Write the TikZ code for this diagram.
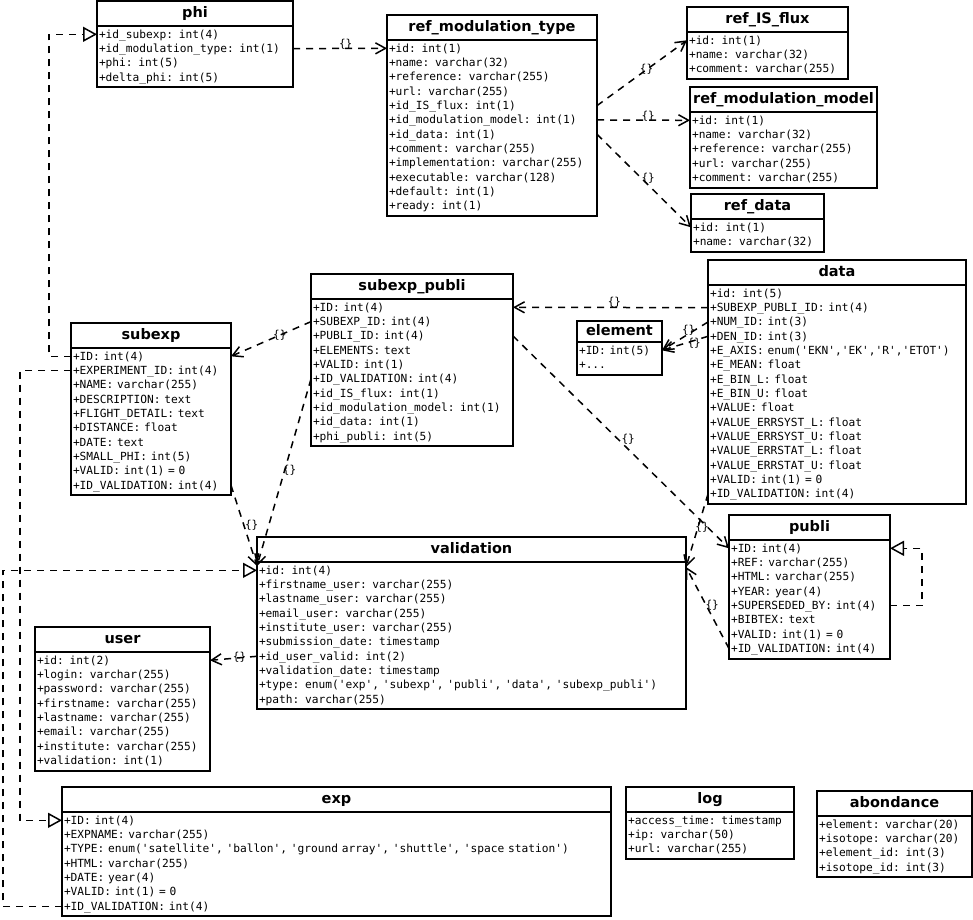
\documentclass[tikz,border=0pt]{standalone}
\usepackage{fontspec}
\setsansfont{DejaVu Sans}
\setmonofont{DejaVu Sans Mono}
\usepackage{tikz}
\usetikzlibrary{arrows.meta,positioning}

% point on row #3 of the body of table #1, side #2
\newcommand{\rw}[3]{([yshift={-8.3pt-(#3-1)*14.33pt}]#1-b.north #2)}

\begin{document}
\begin{tikzpicture}[x=1pt,y=-1pt,
    ttl/.style={draw,line width=1.7pt,outer sep=0pt,inner sep=0pt,anchor=north west,
      minimum width=#1,minimum height=25pt,text height=10.5pt,text depth=3pt,
      font=\sffamily\bfseries\fontsize{14.5pt}{17pt}\selectfont},
    bdy/.style={draw,line width=1.7pt,outer sep=0pt,inner xsep=2pt,inner ysep=2pt,
      text width=#1-4pt,align=left,font=\ttfamily\fontsize{11.2pt}{14.33pt}\selectfont,
      execute at begin node=\strut,execute at end node=\strut},
    link/.style={line width=1.5pt,dash pattern=on 7pt off 6pt},
    fk/.style={link,-{Straight Barb[length=10pt,width=11pt]}},
    gen/.style={link,-{Triangle[open,length=14pt,width=15pt]}},
    lbl/.style={font=\ttfamily\fontsize{11pt}{12pt}\selectfont,inner sep=0pt}]
  \useasboundingbox (0,0) rectangle (973,919);

  % tables
  \node[ttl=196pt] (phi) at (97,1) {phi};
  \node[bdy=196pt, below=0pt of phi] (phi-b)
    {+id\_subexp: int(4)\\+id\_modulation\_type: int(1)\\+phi: int(5)\\+delta\_phi: int(5)};

  \node[ttl=210pt] (reftype) at (387,15) {ref\_modulation\_type};
  \node[bdy=210pt, below=0pt of reftype] (reftype-b)
    {+id: int(1)\\+name: varchar(32)\\+reference: varchar(255)\\+url: varchar(255)\\
     +id\_IS\_flux: int(1)\\+id\_modulation\_model: int(1)\\+id\_data: int(1)\\
     +comment: varchar(255)\\+implementation: varchar(255)\\+executable: varchar(128)\\
     +default: int(1)\\+ready: int(1)};

  \node[ttl=161pt] (isflux) at (687,7) {ref\_IS\_flux};
  \node[bdy=161pt, below=0pt of isflux] (isflux-b)
    {+id: int(1)\\+name: varchar(32)\\+comment: varchar(255)};

  \node[ttl=187pt] (refmodel) at (690,87) {ref\_modulation\_model};
  \node[bdy=187pt, below=0pt of refmodel] (refmodel-b)
    {+id: int(1)\\+name: varchar(32)\\+reference: varchar(255)\\+url: varchar(255)\\
     +comment: varchar(255)};

  \node[ttl=133pt] (refdata) at (691,194) {ref\_data};
  \node[bdy=133pt, below=0pt of refdata] (refdata-b)
    {+id: int(1)\\+name: varchar(32)};

  \node[ttl=258pt] (data) at (708,260) {data};
  \node[bdy=258pt, below=0pt of data] (data-b)
    {+id: int(5)\\+SUBEXP\_PUBLI\_ID: int(4)\\+NUM\_ID: int(3)\\+DEN\_ID: int(3)\\
     +E\_AXIS: enum('EKN','EK','R','ETOT')\\+E\_MEAN: float\\+E\_BIN\_L: float\\
     +E\_BIN\_U: float\\+VALUE: float\\+VALUE\_ERRSYST\_L: float\\+VALUE\_ERRSYST\_U: float\\
     +VALUE\_ERRSTAT\_L: float\\+VALUE\_ERRSTAT\_U: float\\+VALID: int(1) = 0\\
     +ID\_VALIDATION: int(4)};

  \node[ttl=85pt, minimum height=21pt] (element) at (577,321) {element};
  \node[bdy=85pt, below=0pt of element] (element-b)
    {+ID: int(5)\\+...};

  \node[ttl=202pt] (subpub) at (311,274) {subexp\_publi};
  \node[bdy=202pt, below=0pt of subpub] (subpub-b)
    {+ID: int(4)\\+SUBEXP\_ID: int(4)\\+PUBLI\_ID: int(4)\\+ELEMENTS: text\\+VALID: int(1)\\
     +ID\_VALIDATION: int(4)\\+id\_IS\_flux: int(1)\\+id\_modulation\_model: int(1)\\
     +id\_data: int(1)\\+phi\_publi: int(5)};

  \node[ttl=160pt] (subexp) at (71,323) {subexp};
  \node[bdy=160pt, below=0pt of subexp] (subexp-b)
    {+ID: int(4)\\+EXPERIMENT\_ID: int(4)\\+NAME: varchar(255)\\+DESCRIPTION: text\\
     +FLIGHT\_DETAIL: text\\+DISTANCE: float\\+DATE: text\\+SMALL\_PHI: int(5)\\
     +VALID: int(1) = 0\\+ID\_VALIDATION: int(4)};

  \node[ttl=429pt] (validation) at (257,537) {validation};
  \node[bdy=429pt, below=0pt of validation] (validation-b)
    {+id: int(4)\\+firstname\_user: varchar(255)\\+lastname\_user: varchar(255)\\
     +email\_user: varchar(255)\\+institute\_user: varchar(255)\\+submission\_date: timestamp\\
     +id\_user\_valid: int(2)\\+validation\_date: timestamp\\
     +type: enum('exp', 'subexp', 'publi', 'data', 'subexp\_publi')\\+path: varchar(255)};

  \node[ttl=161pt] (publi) at (729,515) {publi};
  \node[bdy=161pt, below=0pt of publi] (publi-b)
    {+ID: int(4)\\+REF: varchar(255)\\+HTML: varchar(255)\\+YEAR: year(4)\\
     +SUPERSEDED\_BY: int(4)\\+BIBTEX: text\\+VALID: int(1) = 0\\+ID\_VALIDATION: int(4)};

  \node[ttl=175pt] (user) at (35,627) {user};
  \node[bdy=175pt, below=0pt of user] (user-b)
    {+id: int(2)\\+login: varchar(255)\\+password: varchar(255)\\+firstname: varchar(255)\\
     +lastname: varchar(255)\\+email: varchar(255)\\+institute: varchar(255)\\
     +validation: int(1)};

  \node[ttl=549pt] (exp) at (62,787) {exp};
  \node[bdy=549pt, below=0pt of exp] (exp-b)
    {+ID: int(4)\\+EXPNAME: varchar(255)\\
     +TYPE: enum('satellite', 'ballon', 'ground array', 'shuttle', 'space station')\\
     +HTML: varchar(255)\\+DATE: year(4)\\+VALID: int(1) = 0\\+ID\_VALIDATION: int(4)};

  \node[ttl=168pt] (log) at (626,787) {log};
  \node[bdy=168pt, below=0pt of log] (log-b)
    {+access\_time: timestamp\\+ip: varchar(50)\\+url: varchar(255)};

  \node[ttl=155pt] (abondance) at (817,791) {abondance};
  \node[bdy=155pt, below=0pt of abondance] (abondance-b)
    {+element: varchar(20)\\+isotope: varchar(20)\\+element\_id: int(3)\\+isotope\_id: int(3)};

  % references
  \draw[fk] \rw{phi}{east}{2} -- \rw{reftype}{west}{1} node[lbl,pos=.56,yshift=4pt] {\{\}};
  \draw[fk] \rw{reftype}{east}{5} -- \rw{isflux}{west}{1} node[lbl,pos=.55] {\{\}};
  \draw[fk] \rw{reftype}{east}{6} -- \rw{refmodel}{west}{1} node[lbl,pos=.55,yshift=4pt] {\{\}};
  \draw[fk] \rw{reftype}{east}{7} -- \rw{refdata}{west}{1} node[lbl,pos=.47,xshift=7pt] {\{\}};
  \draw[fk] \rw{subpub}{west}{2} -- \rw{subexp}{east}{1} node[lbl,pos=.39] {\{\}};
  \draw[fk] \rw{subpub}{west}{6} -- ([yshift=-4pt]validation-b.north west)
    node[lbl,pos=.49,xshift=5pt] {\{\}};
  \draw[fk] \rw{subexp}{east}{10} -- ([yshift=-4pt]validation-b.north west)
    node[lbl,pos=.49,xshift=8pt] {\{\}};
  \draw[fk] \rw{data}{west}{2} -- \rw{subpub}{east}{1} node[lbl,pos=.48,yshift=5pt] {\{\}};
  \draw[fk] \rw{data}{west}{3} -- \rw{element}{east}{1} node[lbl,pos=.42,yshift=4pt] {\{\}};
  \draw[fk] \rw{data}{west}{4} -- \rw{element}{east}{1} node[lbl,pos=.30,yshift=-3pt] {\{\}};
  \draw[fk] \rw{subpub}{east}{3} -- \rw{publi}{west}{1} node[lbl,pos=.51,xshift=5pt,yshift=5pt] {\{\}};
  \draw[fk] \rw{data}{west}{15} -- ([yshift=-5pt]validation-b.north east)
    node[lbl,pos=.45,xshift=4pt] {\{\}};
  \draw[fk] \rw{publi}{west}{8} -- ([yshift=-5pt]validation-b.north east)
    node[lbl,pos=.53,xshift=6pt] {\{\}};
  \draw[fk] \rw{validation}{west}{7} -- \rw{user}{east}{1} node[lbl,pos=.37,yshift=1pt] {\{\}};

  % generalisations
  \draw[gen] \rw{subexp}{west}{1} -- ++(-22,0) |- \rw{phi}{west}{1};
  \draw[gen] \rw{publi}{east}{5} -- ++(32,0) |- \rw{publi}{east}{1};
  \draw[gen] \rw{subexp}{west}{2} -- ++(-51,0) |- \rw{exp}{west}{1};
  \draw[gen] \rw{exp}{west}{7} -- ++(-59,0) |- \rw{validation}{west}{1};
\end{tikzpicture}
\end{document}
